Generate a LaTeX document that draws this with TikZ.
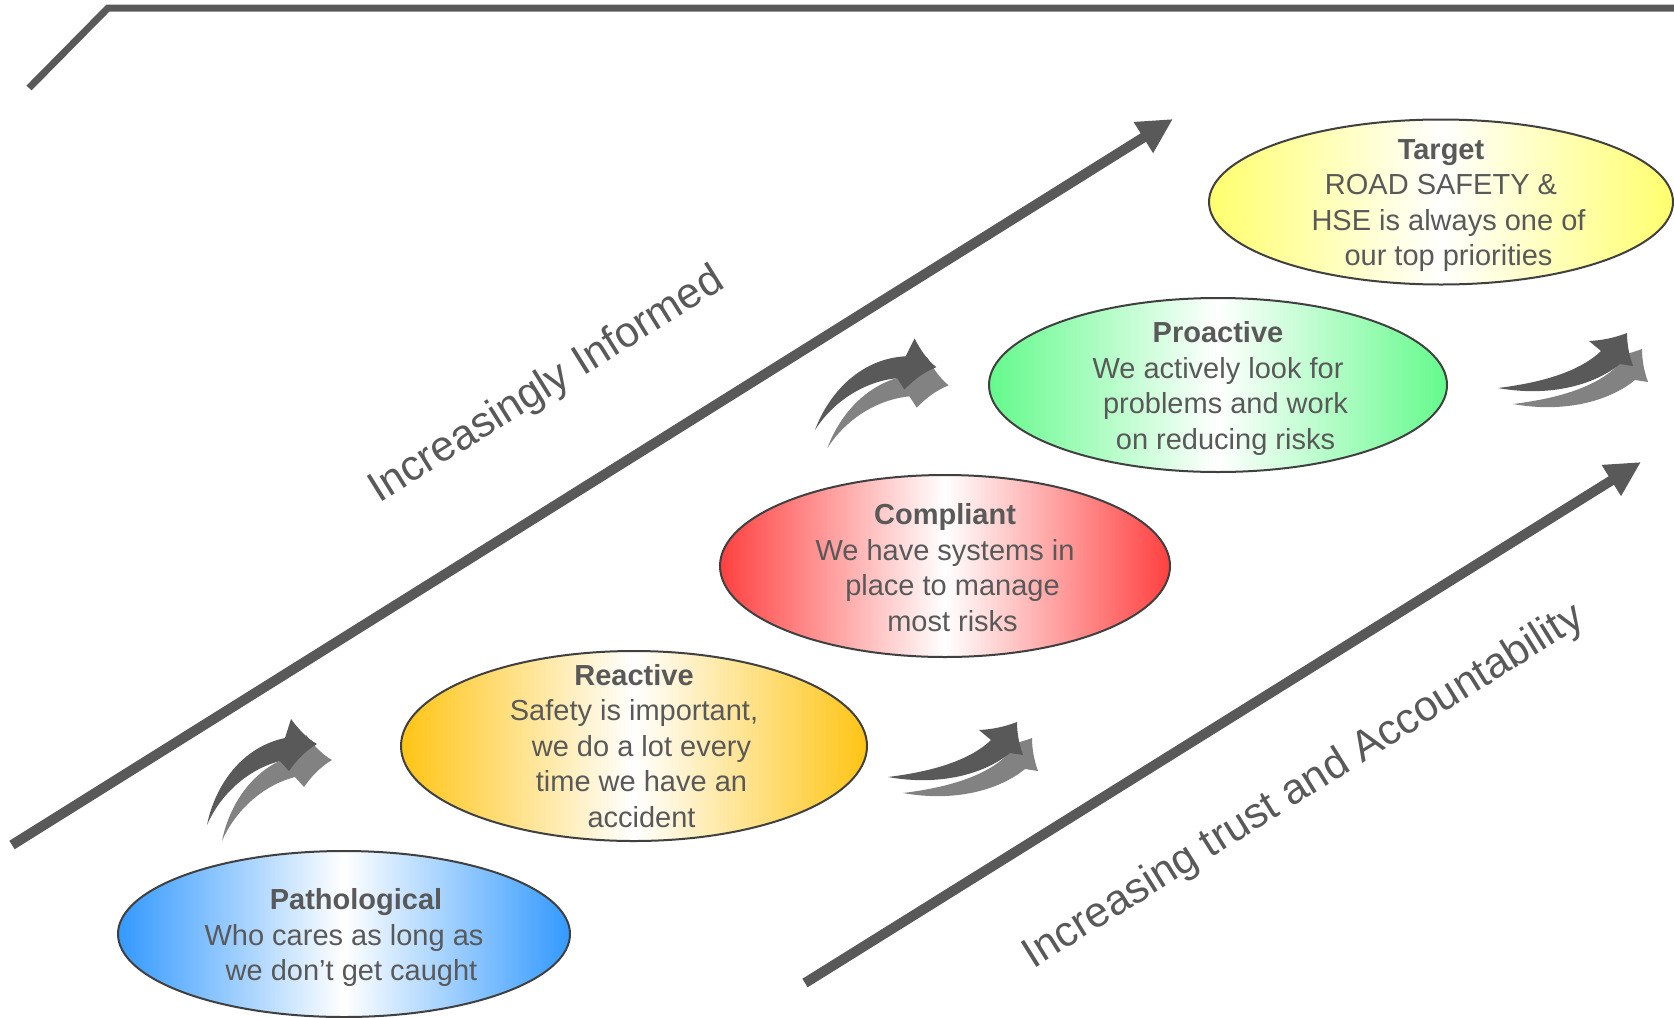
\documentclass[tikz,border=0pt]{standalone}
\usepackage{fontspec}
\setmainfont{Liberation Sans}
\usetikzlibrary{arrows.meta,shapes.geometric}

\definecolor{textgray}{RGB}{89,89,89}
\definecolor{arrowgray}{RGB}{89,89,89}
\definecolor{shadowgray}{RGB}{130,130,130}
\definecolor{rimgray}{RGB}{64,64,64}
\definecolor{pathoblue}{RGB}{51,153,255}
\definecolor{reactgold}{RGB}{255,196,20}
\definecolor{complred}{RGB}{255,64,64}
\definecolor{proactgreen}{RGB}{100,250,140}
\definecolor{targetyellow}{RGB}{255,255,110}

\newcommand{\indentline}{\hspace*{7.5pt}}

\begin{document}
\begin{tikzpicture}[x=0.5pt,y=-0.5pt,
  stage/.style={ellipse, draw=rimgray, line width=1pt, inner sep=0pt},
  stagetext/.style={align=center, text=textgray, inner sep=0pt, yshift=-1.8pt,
    font=\fontsize{14.5}{17.8}\selectfont},
  bigarrow/.style={draw=arrowgray, line width=5pt,
    -{Triangle[length=17.5pt,width=17pt]}},
  bigtext/.style={text=textgray, font=\fontsize{21.4}{26}\selectfont, rotate=32},
  swoosh up/.pic={
    \foreach \dx/\dy/\col in {15/16/shadowgray, 0/0/arrowgray}
      \fill[\col, shift={(\dx,\dy)}] (0,0) .. controls (8,-40) and (35,-78) .. (78,-87)
        -- (84,-106) .. controls (92,-95) and (101,-86) .. (110,-81)
        .. controls (98,-74) and (89,-64) .. (82,-54)
        -- (73,-64) .. controls (42,-56) and (14,-32) .. (0,0) -- cycle;
  },
  swoosh flat/.pic={
    \foreach \dx/\dy/\col in {15/16/shadowgray, 0/0/arrowgray}
      \fill[\col, shift={(\dx,\dy)}] (0,0) .. controls (40,-5) and (80,-15) .. (103,-37)
        -- (91,-47) .. controls (103,-47.5) and (116,-50) .. (129,-55)
        .. controls (129,-44) and (131,-33) .. (135,-22)
        -- (122,-24) .. controls (95,-2) and (50,9) .. (0,0) -- cycle;
  }]
  \useasboundingbox (0,0) rectangle (1674,1017);

  % Frame line at the top
  \draw[arrowgray, line width=3.5pt] (29,88) -- (108,8) -- (1674,8);

  % Two long arrows
  \coordinate (informed tail) at (12,845);
  \coordinate (informed tip) at (1173,119);
  \coordinate (trust tail) at (805,983);
  \coordinate (trust tip) at (1641,462);
  \draw[bigarrow] (informed tail) -- (informed tip);
  \draw[bigarrow] (trust tail) -- (trust tip);
  \node[bigtext] (informed) at (547,386) {Increasingly Informed};
  \node[bigtext] (trust) at (1304,787) {Increasing trust and Accountability};

  % Stages
  \node[stage, minimum width=226pt, minimum height=83pt,
    left color=pathoblue, right color=pathoblue, middle color=white] (patho) at (344,934) {};
  \node[stage, minimum width=233pt, minimum height=95pt,
    left color=reactgold, right color=reactgold, middle color=white] (react) at (634,746) {};
  \node[stage, minimum width=225pt, minimum height=91pt,
    left color=complred, right color=complred, middle color=white] (compl) at (945,566) {};
  \node[stage, minimum width=229pt, minimum height=87pt,
    left color=proactgreen, right color=proactgreen, middle color=white] (proact) at (1218,385) {};
  \node[stage, minimum width=232pt, minimum height=82.5pt,
    left color=targetyellow, right color=targetyellow, middle color=white] (target) at (1441,202) {};

  \node[stagetext] (patho text) at (patho) {\hspace*{12pt}\textbf{Pathological}\\Who cares as long as\\\indentline we don’t get caught};
  \node[stagetext, yshift=1.8pt] (react text) at (react) {\textbf{Reactive}\\Safety is important,\\\indentline we do a lot every\\\indentline time we have an\\\indentline accident};
  \node[stagetext, yshift=1pt] (compl text) at (compl) {\textbf{Compliant}\\We have systems in\\\indentline place to manage\\\indentline most risks};
  \node[stagetext] (proact text) at (proact) {\textbf{Proactive}\\We actively look for\\\indentline problems and work\\\indentline on reducing risks};
  \node[stagetext] (target text) at (target) {\textbf{Target}\\ROAD SAFETY \&\\\indentline HSE is always one of\\\indentline our top priorities};

  % Swoosh arrows between stages
  \pic at (207,825) {swoosh up};
  \pic[rotate=-9] at (815,430) {swoosh up};
  \pic at (888,777) {swoosh flat};
  \pic at (1498,388) {swoosh flat};
\end{tikzpicture}
\end{document}
